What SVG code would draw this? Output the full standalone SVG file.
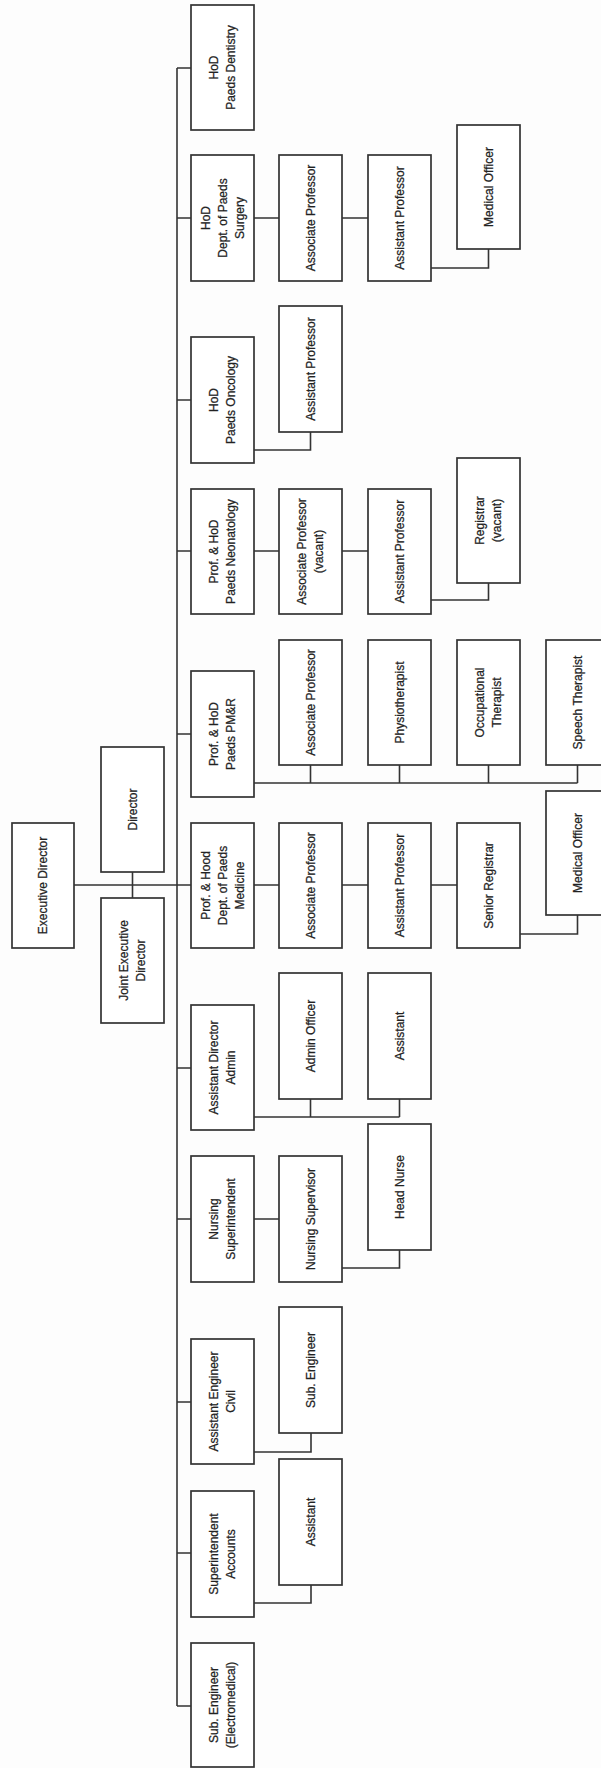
<svg xmlns="http://www.w3.org/2000/svg" width="601" height="1768" viewBox="0 0 601 1768">
<style>
.b{fill:#fff;stroke:#333;stroke-width:1.7}
.t{font-family:"Liberation Sans",Arial,sans-serif;font-size:12px;fill:#222;stroke:#222;stroke-width:0.25;text-anchor:middle}
.c{fill:none;stroke:#333;stroke-width:1.6}
</style>
<rect width="601" height="1768" fill="#fdfdfd"/>
<g id="connectors" class="c">
<path d="M74,885H191M132.5,872V898"/>
<path d="M177,68V1706"/>
<path d="M177,68H191M177,218H191M177,400H191M177,551H191M177,734H191M177,1068H191M177,1219H191M177,1402H191M177,1553H191M177,1706H191"/>
<path d="M254,218H279M342,218H368M431,268H488.5V249"/>
<path d="M254,450H310.5V432"/>
<path d="M254,551H279M342,551H368M431,600H488.5V583"/>
<path d="M254,783H577.5M310.5,765V783M399.5,765V783M488.5,765V783M577.5,765V783"/>
<path d="M254,885H279M342,885H368M431,885H457M520,934H577.5V915"/>
<path d="M254,1117H399.5M310.5,1099V1117M399.5,1099V1117"/>
<path d="M254,1219H279M342,1268H399.5V1250"/>
<path d="M254,1452H311V1433"/>
<path d="M254,1603H311V1585"/>
</g>
<g id="exec"><rect class="b" x="12" y="823" width="62" height="125"/><text class="t" transform="translate(43,885.5) rotate(-90)"><tspan x="0" y="4.3">Executive Director</tspan></text></g>
<g id="director"><rect class="b" x="101" y="747" width="63" height="125"/><text class="t" transform="translate(132.5,809.5) rotate(-90)"><tspan x="0" y="4.3">Director</tspan></text></g>
<g id="joint"><rect class="b" x="101" y="898" width="63" height="125"/><text class="t" transform="translate(132.5,960.5) rotate(-90)"><tspan x="0" y="-4.2">Joint Executive</tspan><tspan x="0" y="12.8">Director</tspan></text></g>

<g id="dentistry"><rect class="b" x="191" y="5" width="63" height="125"/><text class="t" transform="translate(222.5,67.5) rotate(-90)"><tspan x="0" y="-4.2">HoD</tspan><tspan x="0" y="12.8">Paeds Dentistry</tspan></text></g>
<g id="surgery"><rect class="b" x="191" y="155" width="63" height="126"/><text class="t" transform="translate(222.5,218) rotate(-90)"><tspan x="0" y="-12.7">HoD</tspan><tspan x="0" y="4.3">Dept. of Paeds</tspan><tspan x="0" y="21.3">Surgery</tspan></text></g>
<g id="surg-assoc"><rect class="b" x="279" y="155" width="63" height="126"/><text class="t" transform="translate(310.5,218) rotate(-90)"><tspan x="0" y="4.3">Associate Professor</tspan></text></g>
<g id="surg-asst"><rect class="b" x="368" y="155" width="63" height="126"/><text class="t" transform="translate(399.5,218) rotate(-90)"><tspan x="0" y="4.3">Assistant Professor</tspan></text></g>
<g id="surg-mo"><rect class="b" x="457" y="125" width="63" height="124"/><text class="t" transform="translate(488.5,187) rotate(-90)"><tspan x="0" y="4.3">Medical Officer</tspan></text></g>

<g id="oncology"><rect class="b" x="191" y="337" width="63" height="126"/><text class="t" transform="translate(222.5,400) rotate(-90)"><tspan x="0" y="-4.2">HoD</tspan><tspan x="0" y="12.8">Paeds Oncology</tspan></text></g>
<g id="onc-asst"><rect class="b" x="279" y="306" width="63" height="126"/><text class="t" transform="translate(310.5,369) rotate(-90)"><tspan x="0" y="4.3">Assistant Professor</tspan></text></g>

<g id="neonatology"><rect class="b" x="191" y="489" width="63" height="125"/><text class="t" transform="translate(222.5,551.5) rotate(-90)"><tspan x="0" y="-4.2">Prof. &amp; HoD</tspan><tspan x="0" y="12.8">Paeds Neonatology</tspan></text></g>
<g id="neo-assoc"><rect class="b" x="279" y="489" width="63" height="125"/><text class="t" transform="translate(310.5,551.5) rotate(-90)"><tspan x="0" y="-4.2">Associate Professor</tspan><tspan x="0" y="12.8">(vacant)</tspan></text></g>
<g id="neo-asst"><rect class="b" x="368" y="489" width="63" height="125"/><text class="t" transform="translate(399.5,551.5) rotate(-90)"><tspan x="0" y="4.3">Assistant Professor</tspan></text></g>
<g id="neo-reg"><rect class="b" x="457" y="458" width="63" height="125"/><text class="t" transform="translate(488.5,520.5) rotate(-90)"><tspan x="0" y="-4.2">Registrar</tspan><tspan x="0" y="12.8">(vacant)</tspan></text></g>

<g id="pmr"><rect class="b" x="191" y="671" width="63" height="126"/><text class="t" transform="translate(222.5,734) rotate(-90)"><tspan x="0" y="-4.2">Prof. &amp; HoD</tspan><tspan x="0" y="12.8">Paeds PM&amp;R</tspan></text></g>
<g id="pmr-assoc"><rect class="b" x="279" y="640" width="63" height="125"/><text class="t" transform="translate(310.5,702.5) rotate(-90)"><tspan x="0" y="4.3">Associate Professor</tspan></text></g>
<g id="pmr-physio"><rect class="b" x="368" y="640" width="63" height="125"/><text class="t" transform="translate(399.5,702.5) rotate(-90)"><tspan x="0" y="4.3">Physiotherapist</tspan></text></g>
<g id="pmr-ot"><rect class="b" x="457" y="640" width="63" height="125"/><text class="t" transform="translate(488.5,702.5) rotate(-90)"><tspan x="0" y="-4.2">Occupational</tspan><tspan x="0" y="12.8">Therapist</tspan></text></g>
<g id="pmr-speech"><rect class="b" x="546" y="640" width="63" height="125"/><text class="t" transform="translate(577.5,702.5) rotate(-90)"><tspan x="0" y="4.3">Speech Therapist</tspan></text></g>

<g id="medicine"><rect class="b" x="191" y="823" width="63" height="125"/><text class="t" transform="translate(222.5,885.5) rotate(-90)"><tspan x="0" y="-12.7">Prof. &amp; Hood</tspan><tspan x="0" y="4.3">Dept. of Paeds</tspan><tspan x="0" y="21.3">Medicine</tspan></text></g>
<g id="med-assoc"><rect class="b" x="279" y="823" width="63" height="125"/><text class="t" transform="translate(310.5,885.5) rotate(-90)"><tspan x="0" y="4.3">Associate Professor</tspan></text></g>
<g id="med-asst"><rect class="b" x="368" y="823" width="63" height="125"/><text class="t" transform="translate(399.5,885.5) rotate(-90)"><tspan x="0" y="4.3">Assistant Professor</tspan></text></g>
<g id="med-sr"><rect class="b" x="457" y="823" width="63" height="125"/><text class="t" transform="translate(488.5,885.5) rotate(-90)"><tspan x="0" y="4.3">Senior Registrar</tspan></text></g>
<g id="med-mo"><rect class="b" x="546" y="791" width="63" height="124"/><text class="t" transform="translate(577.5,853) rotate(-90)"><tspan x="0" y="4.3">Medical Officer</tspan></text></g>

<g id="admin"><rect class="b" x="191" y="1005" width="63" height="125"/><text class="t" transform="translate(222.5,1067.5) rotate(-90)"><tspan x="0" y="-4.2">Assistant Director</tspan><tspan x="0" y="12.8">Admin</tspan></text></g>
<g id="admin-officer"><rect class="b" x="279" y="973" width="63" height="126"/><text class="t" transform="translate(310.5,1036) rotate(-90)"><tspan x="0" y="4.3">Admin Officer</tspan></text></g>
<g id="admin-assistant"><rect class="b" x="368" y="973" width="63" height="126"/><text class="t" transform="translate(399.5,1036) rotate(-90)"><tspan x="0" y="4.3">Assistant</tspan></text></g>

<g id="nursing"><rect class="b" x="191" y="1156" width="63" height="126"/><text class="t" transform="translate(222.5,1219) rotate(-90)"><tspan x="0" y="-4.2">Nursing</tspan><tspan x="0" y="12.8">Superintendent</tspan></text></g>
<g id="nurse-sup"><rect class="b" x="279" y="1156" width="63" height="126"/><text class="t" transform="translate(310.5,1219) rotate(-90)"><tspan x="0" y="4.3">Nursing Supervisor</tspan></text></g>
<g id="head-nurse"><rect class="b" x="368" y="1124" width="63" height="126"/><text class="t" transform="translate(399.5,1187) rotate(-90)"><tspan x="0" y="4.3">Head Nurse</tspan></text></g>

<g id="civil"><rect class="b" x="191" y="1339" width="63" height="125"/><text class="t" transform="translate(222.5,1401.5) rotate(-90)"><tspan x="0" y="-4.2">Assistant Engineer</tspan><tspan x="0" y="12.8">Civil</tspan></text></g>
<g id="sub-eng"><rect class="b" x="279" y="1307" width="63" height="126"/><text class="t" transform="translate(310.5,1370) rotate(-90)"><tspan x="0" y="4.3">Sub. Engineer</tspan></text></g>

<g id="accounts"><rect class="b" x="191" y="1491" width="63" height="126"/><text class="t" transform="translate(222.5,1554) rotate(-90)"><tspan x="0" y="-4.2">Superintendent</tspan><tspan x="0" y="12.8">Accounts</tspan></text></g>
<g id="acc-assistant"><rect class="b" x="279" y="1459" width="63" height="126"/><text class="t" transform="translate(310.5,1522) rotate(-90)"><tspan x="0" y="4.3">Assistant</tspan></text></g>

<g id="electromedical"><rect class="b" x="191" y="1643" width="63" height="124"/><text class="t" transform="translate(222.5,1705) rotate(-90)"><tspan x="0" y="-4.2">Sub. Engineer</tspan><tspan x="0" y="12.8">(Electromedical)</tspan></text></g>
</svg>
